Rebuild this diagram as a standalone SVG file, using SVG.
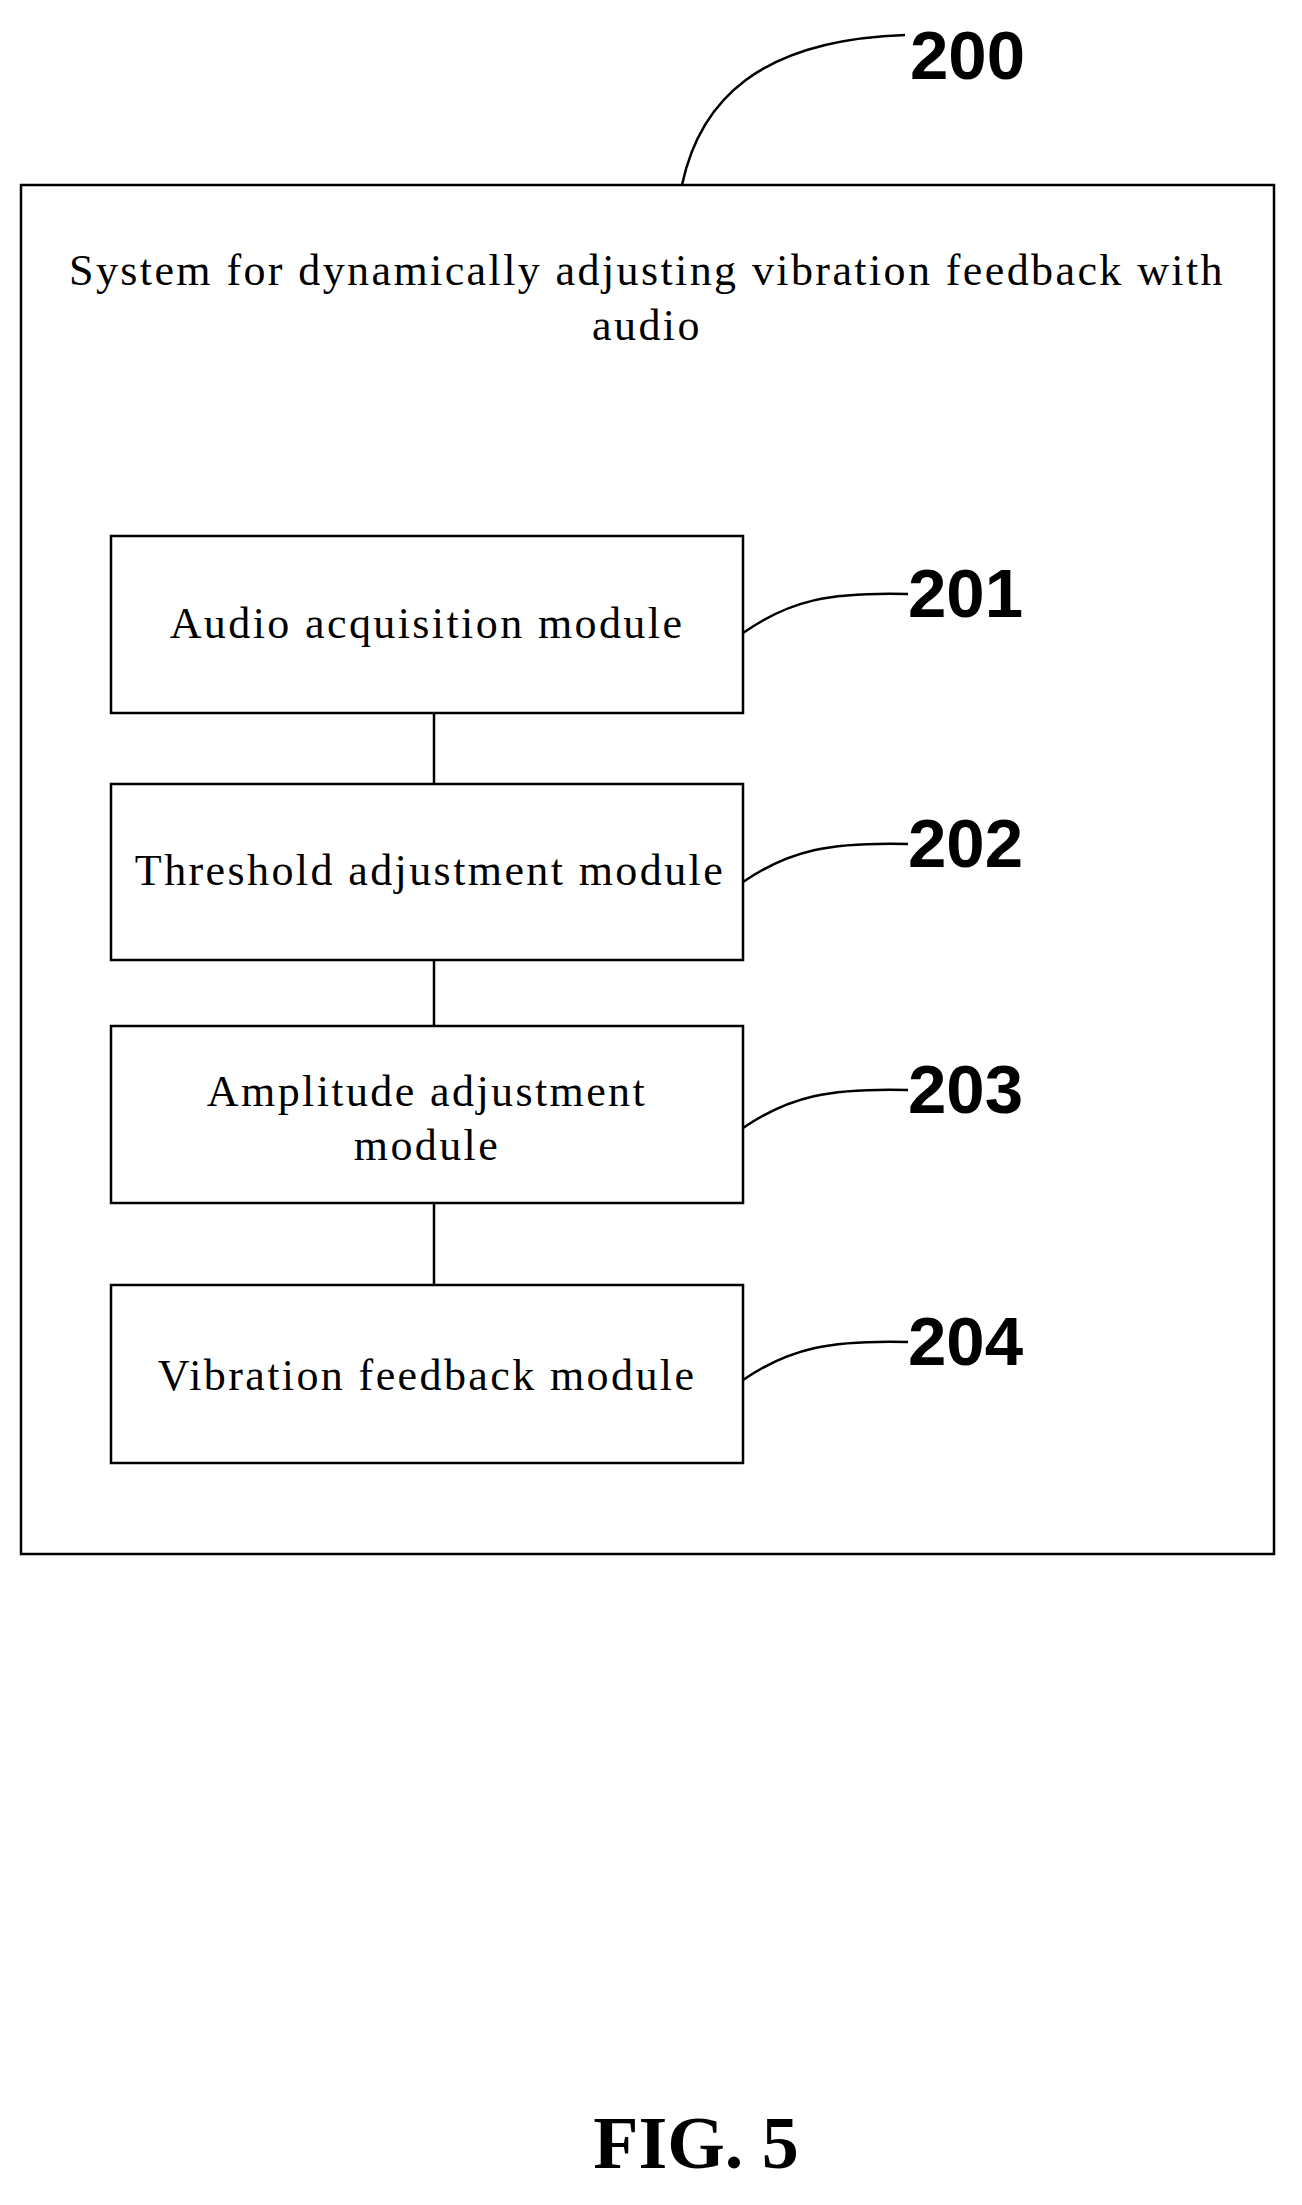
<svg xmlns="http://www.w3.org/2000/svg" width="1302" height="2205" viewBox="0 0 1302 2205">
<style>
.b{fill:#fff;stroke:#000;stroke-width:2.5}
.t{font-family:"Liberation Serif",serif;font-size:44px;letter-spacing:2.4px;text-anchor:middle;fill:#000}
.n{font-family:"Liberation Sans",sans-serif;font-weight:bold;font-size:69px;fill:#000}
.l{fill:none;stroke:#000;stroke-width:2.5}
</style>
<rect width="1302" height="2205" fill="#fff"/>
<g id="n200">
<rect class="b" x="21" y="185" width="1253" height="1369"/>
<text class="t" x="647" y="285">System for dynamically adjusting vibration feedback with</text>
<text class="t" x="647" y="340">audio</text>
<path class="l" d="M682 185 C700 100,760 40,905 35"/>
<text class="n" x="910" y="79">200</text>
</g>
<g id="connectors">
<line class="l" x1="434" y1="713" x2="434" y2="784"/>
<line class="l" x1="434" y1="960" x2="434" y2="1026"/>
<line class="l" x1="434" y1="1203" x2="434" y2="1285"/>
</g>
<g id="n201">
<rect class="b" x="111" y="536" width="632" height="177"/>
<text class="t" x="427" y="638">Audio acquisition module</text>
<path class="l" d="M743 633 C790 600,830 592,908 594"/>
<text class="n" x="908" y="617">201</text>
</g>
<g id="n202">
<rect class="b" x="111" y="784" width="632" height="176"/>
<text class="t" x="430" y="885">Threshold adjustment module</text>
<path class="l" d="M743 882 C790 850,830 842,908 844"/>
<text class="n" x="908" y="867">202</text>
</g>
<g id="n203">
<rect class="b" x="111" y="1026" width="632" height="177"/>
<text class="t" x="427" y="1106">Amplitude adjustment</text>
<text class="t" x="427" y="1160">module</text>
<path class="l" d="M743 1128 C790 1096,830 1088,908 1090"/>
<text class="n" x="908" y="1113">203</text>
</g>
<g id="n204">
<rect class="b" x="111" y="1285" width="632" height="178"/>
<text class="t" x="427" y="1390">Vibration feedback module</text>
<path class="l" d="M743 1380 C790 1348,830 1340,908 1342"/>
<text class="n" x="908" y="1365">204</text>
</g>
<text x="696" y="2168" style="font-family:'Liberation Serif',serif;font-weight:bold;font-size:74px;text-anchor:middle">FIG. 5</text>
</svg>
